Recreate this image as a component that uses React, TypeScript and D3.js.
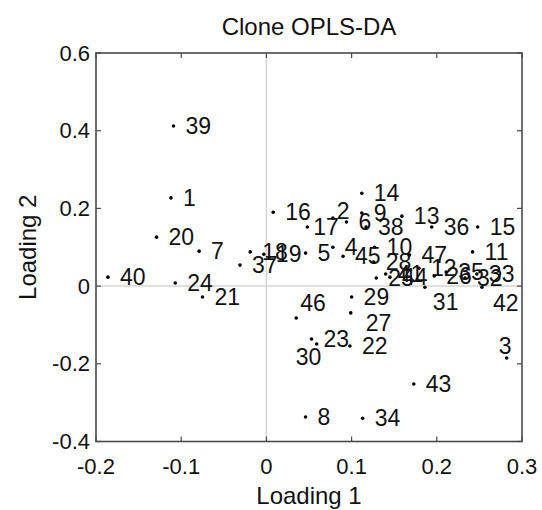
import React from "react";
import * as d3 from "d3";

// ── Data (loadings) ──────────────────────────────────────────────────────────
const IDS = [
  1, 2, 3, 4, 5, 6, 7, 8, 9, 10, 11, 12, 13, 14, 15, 16,
  17, 18, 19, 20, 21, 22, 23, 24, 25, 26, 27, 28, 29, 30, 31, 32,
  33, 34, 35, 36, 37, 38, 39, 40, 41, 42, 43, 44, 45, 46, 47,
];
const LOADING_1 = [
  -0.112, 0.078, 0.282, 0.078, 0.046, 0.094, -0.079, 0.046, 0.112, 0.127, 0.242, 0.179, 0.159, 0.112, 0.248, 0.008,
  0.048, -0.019, -0.003, -0.129, -0.075, 0.098, 0.053, -0.107, 0.129, 0.197, 0.099, 0.126, 0.100, 0.059, 0.186, 0.233,
  0.247, 0.113, 0.211, 0.194, -0.031, 0.117, -0.109, -0.186, 0.140, 0.253, 0.173, 0.145, 0.090, 0.035, 0.168,
];
const LOADING_2 = [
  0.227, 0.175, -0.185, 0.100, 0.085, 0.165, 0.090, -0.337, 0.188, 0.100, 0.088, 0.046, 0.180, 0.239, 0.152, 0.190,
  0.152, 0.088, 0.082, 0.126, -0.028, -0.154, -0.136, 0.008, 0.021, 0.026, -0.069, 0.062, -0.028, -0.149, -0.003, 0.021,
  0.031, -0.340, 0.036, 0.152, 0.054, 0.152, 0.412, 0.023, 0.031, -0.003, -0.252, 0.023, 0.077, -0.082, 0.080,
];
const X_TICKS = [-0.2, -0.1, 0, 0.1, 0.2, 0.3];
const Y_TICKS = [-0.4, -0.2, 0, 0.2, 0.4, 0.6];

// labels that were moved off their default spot (px)
const LABEL_SHIFT: Record<number, [number, number]> = {
  2: [-8, -7],
  17: [-6, 0],
  46: [-8, -15],
  27: [3, 10],
  30: [-33, 13],
  31: [-4, 15],
  42: [-1, 16],
  3: [-20, -12],
};

// ── Layout ───────────────────────────────────────────────────────────────────
const W = 542;
const H = 510;
const M = { left: 96, right: 522, top: 53, bottom: 441.5 };
const FONT = "'Liberation Sans', Arial, Helvetica, sans-serif";
const AXIS = "#4a4a4a";

export default function App() {
  const x = d3.scaleLinear().domain([-0.2, 0.3]).range([M.left, M.right]);
  const y = d3.scaleLinear().domain([-0.4, 0.6]).range([M.bottom, M.top]);
  const fmt = (v: number) => (Math.abs(v) < 1e-9 ? "0" : String(+v.toFixed(1)));
  const tick = 5;

  const points = IDS.map((id, i) => ({ id, lx: LOADING_1[i], ly: LOADING_2[i] }));

  return (
    <svg
      width={W}
      height={H}
      style={{ position: "absolute", left: 0, top: 0, background: "#fff" }}
      fontFamily={FONT}
    >
      {/* zero lines */}
      <line x1={x(0)} x2={x(0)} y1={M.top} y2={M.bottom} stroke="#d4d4d4" strokeWidth={1.5} />
      <line x1={M.left} x2={M.right} y1={y(0)} y2={y(0)} stroke="#d4d4d4" strokeWidth={1.5} />

      {/* ticks on all four sides, pointing inward */}
      {X_TICKS.map((t) => (
        <g key={"xt" + t}>
          <line x1={x(t)} x2={x(t)} y1={M.bottom} y2={M.bottom - tick} stroke={AXIS} strokeWidth={1.2} />
          <line x1={x(t)} x2={x(t)} y1={M.top} y2={M.top + tick} stroke={AXIS} strokeWidth={1.2} />
          <text x={x(t)} y={474} fontSize={22} textAnchor="middle" fill="#111">
            {fmt(t)}
          </text>
        </g>
      ))}
      {Y_TICKS.map((t) => (
        <g key={"yt" + t}>
          <line x1={M.left} x2={M.left + tick} y1={y(t)} y2={y(t)} stroke={AXIS} strokeWidth={1.2} />
          <line x1={M.right} x2={M.right - tick} y1={y(t)} y2={y(t)} stroke={AXIS} strokeWidth={1.2} />
          <text x={90} y={y(t)} fontSize={22} textAnchor="end" dominantBaseline="central" fill="#111">
            {fmt(t)}
          </text>
        </g>
      ))}

      {/* box */}
      <rect
        x={M.left}
        y={M.top}
        width={M.right - M.left}
        height={M.bottom - M.top}
        fill="none"
        stroke={AXIS}
        strokeWidth={1.6}
      />

      {/* points + labels */}
      {points.map((p) => {
        const [dx, dy] = LABEL_SHIFT[p.id] ?? [0, 0];
        return (
          <g key={p.id}>
            <circle cx={x(p.lx)} cy={y(p.ly)} r={1.8} fill="#000" />
            <text
              x={x(p.lx) + 12 + dx}
              y={y(p.ly) + dy}
              fontSize={23}
              dominantBaseline="central"
              fill="#111"
            >
              {p.id}
            </text>
          </g>
        );
      })}

      {/* titles */}
      <text x={(M.left + M.right) / 2} y={35} fontSize={24} textAnchor="middle" fill="#111">
        Clone OPLS-DA
      </text>
      <text x={(M.left + M.right) / 2} y={504} fontSize={24} textAnchor="middle" fill="#111">
        Loading 1
      </text>
      <text
        transform={`translate(36,${(M.top + M.bottom) / 2}) rotate(-90)`}
        fontSize={24}
        textAnchor="middle"
        fill="#111"
      >
        Loading 2
      </text>
    </svg>
  );
}
